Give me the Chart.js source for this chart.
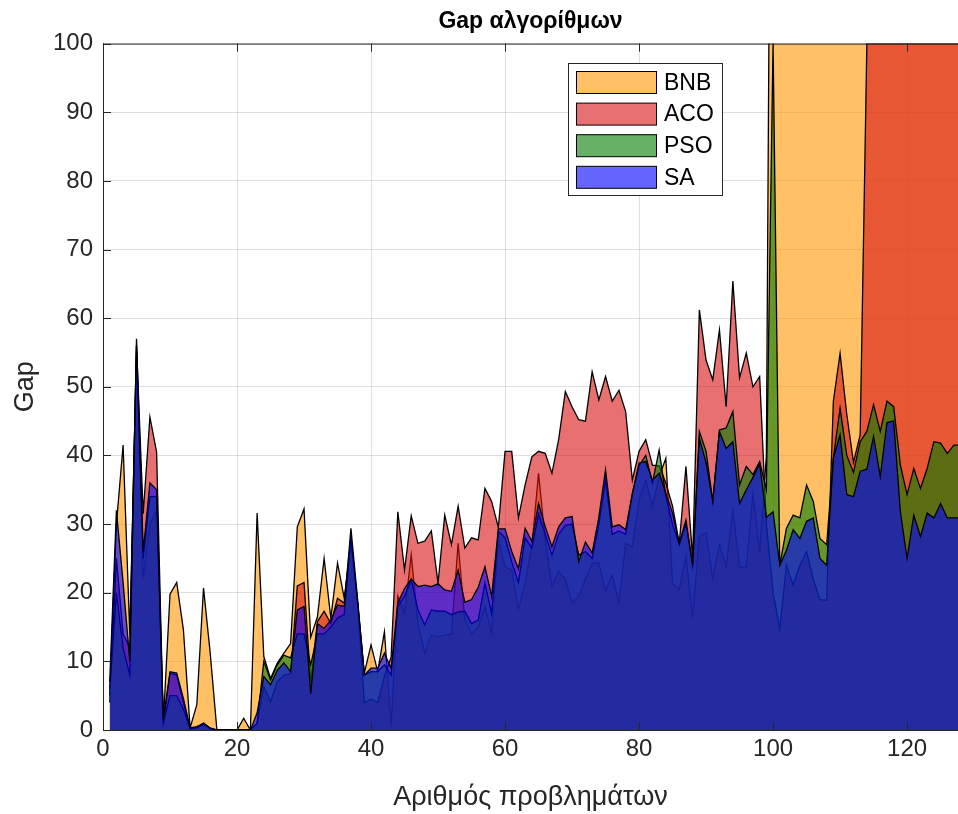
<!DOCTYPE html>
<html>
<head>
<meta charset="utf-8">
<title>Gap αλγορίθμων</title>
<script src="https://cdn.jsdelivr.net/npm/chart.js@4.4.1/dist/chart.umd.min.js"></script>
<style>
  html, body { margin: 0; padding: 0; background: #fff; }
  #wrap { width: 958px; height: 814px; }
</style>
</head>
<body>
<div id="wrap"><canvas id="gapChart" width="958" height="814"></canvas></div>
<script>
// problem number 1..128 (x axis categories)
const problems = Array.from({ length: 128 }, (_, k) => k + 1);

const bnb = [
  5, 30, 41.5, 14, 55, 22, 30, 32, 1, 19.8,
  21.5, 14.6, 0.3, 3.7, 20.7, 11.2, 0, 0, 0, 0,
  1.7, 0, 31.6, 10.7, 7.5, 9.7, 11.2, 12.6, 29.6, 32.2,
  13.5, 16.5, 25, 16.3, 24.3, 19.2, 27, 18.5, 8.3, 12.4,
  8.5, 14.3, 0.5, 19.5, 17, 25.5, 15.5, 11.2, 13.8, 13.6,
  13.8, 14, 27.2, 16, 14, 15, 18, 14, 27.7, 23.8,
  23.3, 17.5, 21.4, 26.7, 37.4, 27.7, 20.9, 23.1, 21.9, 18.5,
  19.5, 22, 24.3, 24.3, 20.2, 22.6, 18.5, 27.2, 26.7, 33.5,
  36.4, 32.6, 36.9, 39.6, 21.4, 20.4, 25.3, 16.3, 28.2, 28.7,
  22.1, 27, 23.8, 32, 23.8, 23.6, 34.5, 25.8, 40, 200,
  200, 200, 200, 200, 200, 200, 200, 200, 200, 200,
  200, 200, 200, 200, 200, 200, 200, 200, 200, 200,
  200, 200, 200, 200, 200, 200, 200, 200
];

const aco = [
  4, 25, 14, 12, 56, 31.5, 45.6, 40.5, 1, 8.3,
  8, 4, 0.2, 0.3, 1, 0.2, 0, 0, 0, 0,
  0, 0, 1, 6.3, 4.1, 7, 8, 8.2, 21, 21.5,
  7, 15.8, 17.3, 15.5, 19.2, 18.5, 28, 18.5, 4, 4.5,
  4, 7.8, 10.6, 31.8, 23.3, 31.2, 27.2, 27.5, 29, 21.4,
  31.3, 27, 32.6, 26.5, 28, 27.7, 35.2, 33.3, 29.5, 40.6,
  40.6, 30.9, 35.7, 39.8, 40.6, 40.3, 37.4, 42.3, 49.3, 47.1,
  45.2, 45, 52.2, 48.1, 51.5, 47.9, 49.5, 46.4, 36.4, 40.6,
  42.3, 38.6, 38.5, 36, 32.6, 27.2, 38.4, 25, 61.2, 53.9,
  51, 58.3, 47.1, 65.4, 51.3, 54.9, 50, 51.5, 30, 20,
  14.8, 24, 21.1, 24, 26, 22, 19, 18.9, 47.9, 54.9,
  46, 39, 43, 100, 100, 100, 100, 100, 100, 100,
  100, 100, 100, 100, 100, 100, 100, 100
];

const pso = [
  6, 20, 12, 8, 56, 25, 34, 34, 1, 5,
  5, 3, 0.2, 0.3, 0.8, 0.2, 0, 0, 0, 0,
  0, 0, 1, 10, 7.3, 9.5, 10.9, 10.5, 14, 14,
  9.5, 14, 14, 15, 16.3, 16.8, 28, 18.5, 8, 8.5,
  8.5, 9.5, 8, 18, 19.5, 21.9, 17.5, 15.3, 17.5, 17.3,
  17.3, 16.8, 17.2, 17.3, 15.5, 16, 21.4, 17, 29, 28,
  24.5, 21.5, 28, 26.5, 31.5, 28.5, 25.5, 28.5, 29.8, 30,
  25.5, 26, 25, 30, 36.5, 28.5, 29, 28.5, 34.3, 38.5,
  40, 36, 40.8, 34, 30, 27, 30, 24, 43.5, 40.6,
  33.3, 43.7, 44, 46.4, 35.7, 38.4, 37.2, 39.1, 35, 100,
  24, 29.4, 31.3, 30.9, 35.7, 33.3, 27.9, 27, 39.6, 46.9,
  40, 37.5, 42, 43.5, 47.4, 43.5, 47.9, 47.1, 38.6, 34.3,
  38.1, 35.2, 38.1, 42, 41.8, 40.3, 41.5, 41.5
];

const sa = [
  7, 32, 21.5, 10, 57, 26, 36, 35, 1.5, 8.5,
  8.3, 4.6, 0.3, 0.5, 1, 0.3, 0, 0, 0, 0,
  0, 0, 2.5, 7.8, 6.6, 8.7, 9.8, 8.5, 17.5, 18,
  5.3, 15.5, 14.8, 16, 18.2, 18, 29.4, 19, 8, 9,
  9, 11.2, 9, 18.5, 20.6, 22, 20.9, 21.1, 20.9, 21.3,
  20.4, 20.2, 23.3, 18.6, 19, 20.8, 23.8, 19.5, 29.3, 29.3,
  26, 23.5, 29.4, 27.5, 33, 29.6, 26.7, 29.6, 30.9, 31.1,
  24.5, 27.4, 25.8, 31, 37.9, 29.6, 29.9, 29.2, 34.5, 38.9,
  39.1, 36.4, 37.4, 34.5, 31.6, 27.2, 30.6, 24, 42.5, 39,
  33.3, 43.5, 41, 42, 33, 35, 36.8, 38.8, 31, 31.8,
  24, 26.2, 29.2, 27.9, 30.4, 30.9, 25, 24, 39.6, 43,
  34.3, 34, 37.7, 38, 42.8, 36.9, 44.8, 45, 31.8, 25,
  31.3, 28.2, 31.6, 30.9, 33, 30.9, 30.9, 30.9
];

const xTicks = [0, 20, 40, 60, 80, 100, 120];
const yTicks = [0, 10, 20, 30, 40, 50, 60, 70, 80, 90, 100];

const FONT = "'Liberation Sans', Arial, Helvetica, sans-serif";
const INK = '#262626';

function toPoints(vals) {
  return vals.map((v, k) => ({ x: problems[k], y: v }));
}

function area(label, vals, color) {
  return {
    label: label,
    data: toPoints(vals),
    backgroundColor: color,
    borderColor: '#000',
    borderWidth: 1.3,
    fill: 'origin',
    tension: 0,
    pointRadius: 0,
    clip: 0
  };
}

// box on top, inward ticks and the legend, drawn like matlab does
const matlabFrame = {
  id: 'matlabFrame',
  afterDraw(chart) {
    const { ctx, chartArea: a, scales } = chart;
    const x = scales.x, y = scales.y;
    ctx.save();
    ctx.strokeStyle = INK;
    ctx.lineWidth = 1;
    ctx.beginPath();
    ctx.moveTo(a.left, a.top + 0.5);
    ctx.lineTo(a.right, a.top + 0.5);
    yTicks.forEach(v => {
      const py = Math.round(y.getPixelForValue(v)) + 0.5;
      ctx.moveTo(a.left, py);
      ctx.lineTo(a.left + 8, py);
    });
    xTicks.forEach(v => {
      const px = Math.round(x.getPixelForValue(v)) + 0.5;
      ctx.moveTo(px, a.bottom);
      ctx.lineTo(px, a.bottom - 8);
      ctx.moveTo(px, a.top);
      ctx.lineTo(px, a.top + 8);
    });
    ctx.stroke();

    // legend
    const lx = 568.5, ly = 63.5, lw = 154, lh = 132;
    ctx.fillStyle = '#fff';
    ctx.fillRect(lx, ly, lw, lh);
    ctx.strokeStyle = INK;
    ctx.strokeRect(lx, ly, lw, lh);
    const items = chart.data.datasets.slice().reverse();
    ctx.font = '23px ' + FONT;
    ctx.textBaseline = 'middle';
    ctx.textAlign = 'left';
    items.forEach((ds, k) => {
      const sy = 71.5 + k * 31.6;
      ctx.fillStyle = ds.backgroundColor;
      ctx.fillRect(576.5, sy, 80, 22);
      ctx.strokeStyle = '#000';
      ctx.strokeRect(576.5, sy, 80, 22);
      ctx.fillStyle = '#000';
      ctx.fillText(ds.label, 664, sy + 12);
    });
    ctx.restore();
  }
};

const ctx = document.getElementById('gapChart');
new Chart(ctx, {
  type: 'line',
  data: {
    // first dataset is drawn last, so SA sits on top like in the original
    datasets: [
      area('SA', sa, 'rgba(0,0,255,0.6)'),
      area('PSO', pso, 'rgba(0,125,0,0.6)'),
      area('ACO', aco, 'rgba(217,17,17,0.6)'),
      area('BNB', bnb, 'rgba(255,150,0,0.6)')
    ]
  },
  options: {
    responsive: false,
    animation: false,
    devicePixelRatio: 1,
    layout: { padding: 0 },
    plugins: {
      legend: { display: false },
      tooltip: { enabled: false },
      title: {
        display: true,
        text: 'Gap αλγορίθμων',
        fullSize: false,
        color: '#000',
        font: { family: FONT, size: 23, weight: 'bold' },
        padding: { top: 8, bottom: 8 }
      }
    },
    scales: {
      x: {
        type: 'linear',
        min: 0,
        max: 127.6,
        z: 1,
        afterFit: s => { s.height = 84; },
        afterBuildTicks: s => { s.ticks = xTicks.map(v => ({ value: v })); },
        grid: { color: 'rgba(38,38,38,0.15)', drawTicks: false },
        border: { color: INK, width: 1 },
        ticks: { color: INK, font: { family: FONT, size: 24 }, padding: 5, maxRotation: 0 },
        title: {
          display: true,
          text: 'Αριθμός προβλημάτων',
          color: INK,
          font: { family: FONT, size: 27 },
          padding: { top: 0, bottom: 0 }
        }
      },
      y: {
        type: 'linear',
        min: 0,
        max: 100,
        z: 1,
        afterFit: s => { s.width = 103; },
        afterBuildTicks: s => { s.ticks = yTicks.map(v => ({ value: v })); },
        grid: { color: 'rgba(38,38,38,0.15)', drawTicks: false },
        border: { color: INK, width: 1 },
        ticks: { color: INK, font: { family: FONT, size: 24 }, padding: 10 },
        title: {
          display: true,
          text: 'Gap',
          color: INK,
          font: { family: FONT, size: 27 },
          padding: { top: 9, bottom: 0 }
        }
      }
    }
  },
  plugins: [matlabFrame]
});
</script>
</body>
</html>
